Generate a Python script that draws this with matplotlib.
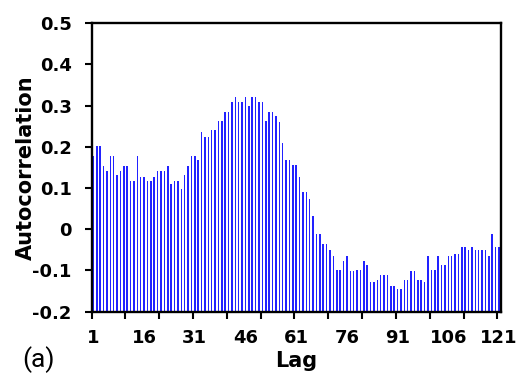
import numpy as np
import matplotlib
matplotlib.use("Agg")
import matplotlib.pyplot as plt
from matplotlib.ticker import FixedLocator, FixedFormatter, NullFormatter

plt.rcParams['axes.unicode_minus'] = False
plt.rcParams['font.family'] = ['DejaVu Sans']

# ---- data -------------------------------------------------------------
lags = list(range(1, 122))
autocorr = [
    0.178, 0.202, 0.202, 0.153, 0.142, 0.178, 0.178, 0.131, 0.142, 0.153,
    0.153, 0.117, 0.117, 0.178, 0.127, 0.127, 0.117, 0.117, 0.127, 0.142,
    0.142, 0.142, 0.153, 0.110, 0.117, 0.117, 0.099, 0.131, 0.153, 0.178,
    0.178, 0.167, 0.235, 0.224, 0.224, 0.241, 0.241, 0.263, 0.263, 0.284,
    0.284, 0.309, 0.320, 0.309, 0.309, 0.320, 0.299, 0.320, 0.320, 0.309,
    0.309, 0.263, 0.284, 0.284, 0.274, 0.260, 0.210, 0.167, 0.167, 0.156,
    0.156, 0.127, 0.091, 0.091, 0.073, 0.033, -0.011, -0.011, -0.036, -0.036,
    -0.051, -0.065, -0.098, -0.098, -0.076, -0.065, -0.102, -0.102, -0.098, -0.098,
    -0.076, -0.087, -0.127, -0.127, -0.124, -0.112, -0.112, -0.112, -0.137, -0.137,
    -0.146, -0.146, -0.124, -0.124, -0.102, -0.102, -0.124, -0.124, -0.127, -0.065,
    -0.098, -0.098, -0.065, -0.087, -0.087, -0.065, -0.065, -0.061, -0.061, -0.043,
    -0.043, -0.051, -0.043, -0.051, -0.051, -0.051, -0.051, -0.065, -0.011, -0.043,
    -0.043,
]
xtick_labels = ["1", "16", "31", "46", "61", "76", "91", "106", "121"]
ytick_values = [-0.2, -0.1, 0.0, 0.1, 0.2, 0.3, 0.4, 0.5]
ytick_labels = ["-0.2", "-0.1", "0", "0.1", "0.2", "0.3", "0.4", "0.5"]
x_label = "Lag"
y_label = "Autocorrelation"
panel_label = "(a)"

# ---- figure -----------------------------------------------------------
fig = plt.figure(figsize=(5.21, 3.74), dpi=100)
ax = fig.add_axes([0.176, 0.1666, 0.785, 0.7711])

ymin, ymax = ytick_values[0], ytick_values[-1]
vals = np.array(autocorr)
ax.bar(lags, vals - ymin, bottom=ymin, width=0.45, color='#2222ff',
       linewidth=0, zorder=2)

ax.set_xlim(0.5, 121.5)
ax.set_ylim(ymin, ymax)

# x: tick marks every 10 categories (between categories), labels every 15
ax.xaxis.set_major_locator(FixedLocator(np.arange(0.5, 121, 10)))
ax.xaxis.set_major_formatter(NullFormatter())
ax.xaxis.set_minor_locator(FixedLocator([int(s) for s in xtick_labels]))
ax.xaxis.set_minor_formatter(FixedFormatter(xtick_labels))
ax.tick_params(axis='x', which='minor', length=0, pad=12.5,
               labelsize=13)
for t in ax.xaxis.get_minorticklabels():
    t.set_fontweight('bold')

ax.yaxis.set_major_locator(FixedLocator(ytick_values))
ax.yaxis.set_major_formatter(FixedFormatter(ytick_labels))

ax.tick_params(axis='both', which='major', direction='out', length=5,
               width=1.5, colors='black', labelsize=13)
ax.tick_params(axis='y', which='major', pad=9.5)
for t in ax.yaxis.get_majorticklabels():
    t.set_fontweight('bold')

for sp in ax.spines.values():
    sp.set_linewidth(1.7)
    sp.set_color('black')

fig.text(0.05, 0.5 * (0.1666 + 0.9377), y_label, rotation=90,
         ha='center', va='center', fontsize=15, fontweight='bold')
fig.text(0.568, 0.0195, x_label, ha='center', va='baseline',
         fontsize=15, fontweight='bold')
fig.text(0.074, 0.0195, panel_label, ha='center', va='baseline',
         fontsize=19, family=['Roboto', 'DejaVu Sans'])

fig.savefig("out.png", dpi=100)
